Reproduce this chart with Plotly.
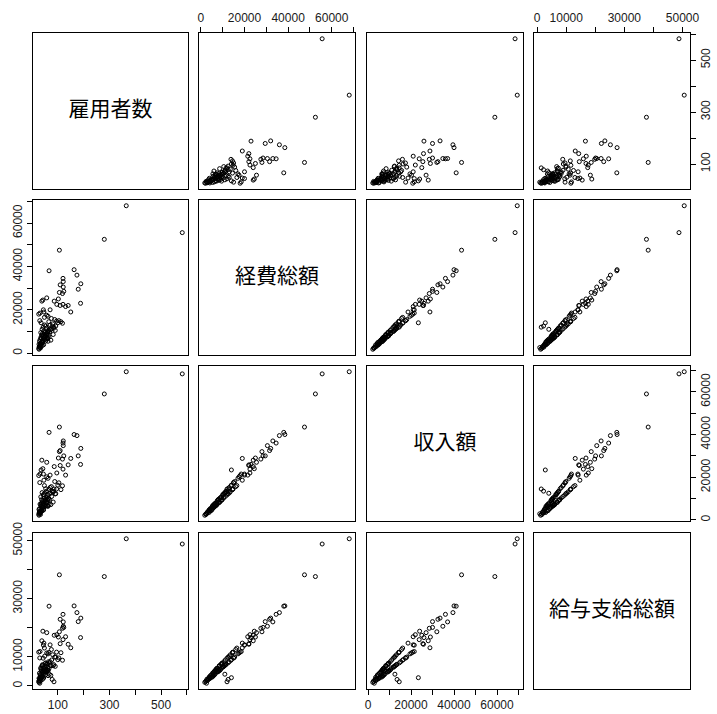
import plotly.graph_objects as go

names = ["雇用者数", "経費総額", "収入額", "給与支給総額"]

employees = [582, 365, 280, 106, 163, 174, 120, 121, 109, 121,
             189, 179, 106, 118, 123, 66, 188, 150, 57, 38,
             42, 86, 102, 96, 109, 120, 130, 140, 70, 31,
             46, 26, 78, 85, 67, 30, 62, 75, 88, 95,
             100, 80, 70, 92, 104, 112, 118, 65, 84, 28,
             32, 35, 27, 30, 38, 40, 42, 45, 48, 50,
             33, 36, 44, 52, 55, 58, 60, 62, 64, 47,
             41, 37, 34, 31, 29, 39, 43, 53, 49, 56,
             68, 72, 76, 46, 51, 54, 59, 63, 66, 26,
             40, 35, 30, 48, 57, 44, 73, 82, 90, 62,
             29, 33, 37, 41, 45, 50, 53, 58, 61, 36,
             43, 27, 34, 39]
expenses = [55600, 68000, 52500, 47500, 38500, 36000, 34500, 33000, 31500, 30500,
            32000, 29500, 28000, 27500, 28500, 38000, 23000, 19000, 25500, 24000,
            24500, 24000, 25000, 22500, 22000, 22500, 21500, 22000, 20000, 18500,
            19000, 18000, 12500, 12000, 11000, 2600, 17000, 16000, 15500, 14800,
            14000, 13500, 13000, 12500, 15000, 14500, 13800, 14500, 11500, 3000,
            3800, 4200, 1800, 2800, 5000, 5500, 6000, 6500, 7000, 7500,
            4500, 5200, 5800, 8000, 8500, 9000, 9500, 10000, 10500, 8800,
            9200, 8200, 7200, 6200, 5400, 11000, 12000, 12500, 13000, 11500,
            9800, 10800, 11200, 10200, 9600, 7800, 6800, 8300, 7400, 2200,
            3500, 14000, 15000, 16500, 17500, 20000, 6000, 8600, 10500, 5500,
            3300, 2400, 4000, 4800, 3900, 6300, 5600, 7300, 6700, 6900,
            7600, 4100, 9500, 8400]
revenue = [68400, 69400, 59000, 43500, 40000, 39500, 36000, 37000, 32500, 34800,
           33500, 30000, 32000, 28500, 30000, 41000, 26000, 28800, 27000, 28000,
           24000, 25000, 29000, 22000, 25500, 23800, 21000, 25800, 21000, 21500,
           18600, 20800, 13500, 14500, 12500, 2900, 19500, 15600, 18000, 14500,
           16300, 13200, 15200, 12300, 17400, 14200, 16000, 14300, 13300, 3600,
           3500, 5200, 2200, 3400, 4600, 6800, 5900, 7800, 6900, 9000,
           4300, 6300, 6000, 9600, 8200, 10500, 9300, 11800, 10300, 10200,
           9000, 9500, 7000, 7400, 5300, 12800, 11700, 14600, 12600, 13400,
           9600, 12500, 11000, 11900, 9400, 9100, 6700, 9700, 7300, 2700,
           4300, 23400, 17500, 16100, 20200, 21500, 7200, 8400, 12200, 6400,
           3900, 2600, 4200, 5600, 4700, 6200, 6700, 8300, 6600, 7700,
           7500, 4900, 10800, 8300]
salary = [48800, 50600, 37600, 38200, 27500, 25200, 24600, 22000, 22900, 20500,
          23300, 22100, 18600, 19800, 20100, 27400, 16600, 13100, 18300, 15500,
          18800, 17400, 16800, 17600, 14500, 15900, 16900, 14300, 14100, 11800,
          14700, 11600, 2200, 1400, 4000, 900, 11000, 12500, 9900, 11600,
          9000, 10700, 8300, 9900, 9600, 11400, 8800, 11500, 7300, 1800,
          2900, 2600, 1200, 2300, 3900, 3300, 4800, 4000, 5600, 4700,
          3600, 3000, 4600, 5000, 6900, 5600, 7600, 6400, 8300, 5400,
          7300, 5100, 5900, 3900, 4400, 7000, 9500, 7900, 10200, 7400,
          7800, 6900, 8900, 6500, 7700, 4900, 5500, 5300, 6000, 1500,
          2200, 2800, 9600, 13000, 11300, 14000, 3600, 6900, 6700, 3500,
          2400, 1700, 3200, 3000, 2700, 5100, 3800, 4900, 5300, 5500,
          6100, 2600, 6200, 6800]

employee_ticks = [100, 200, 300, 400, 500, 600]
employee_labels = ["100", "", "300", "", "500", ""]
money70_ticks = [0, 10000, 20000, 30000, 40000, 50000, 60000, 70000]
money70_labels = ["0", "", "20000", "", "40000", "", "60000", ""]
salary_ticks = [0, 10000, 20000, 30000, 40000, 50000]
salary_labels = ["0", "10000", "", "30000", "", "50000"]

data = [employees, expenses, revenue, salary]
ticks = [(employee_ticks, employee_labels), (money70_ticks, money70_labels),
         (money70_ticks, money70_labels), (salary_ticks, salary_labels)]

W, H = 717, 714
col_px = [(33, 188), (199, 355), (367, 523), (534, 690)]
row_px = [(33, 189), (200, 355), (366, 521), (533, 689)]


def rng(v):
    lo, hi = min(v), max(v)
    d = hi - lo
    return [lo - 0.04 * d, hi + 0.04 * d]


tick_font = dict(family="Liberation Sans, Arial, sans-serif", size=12, color="#1a1a1a")

fig = go.Figure()
layout = dict(width=W, height=H, margin=dict(l=0, r=0, t=0, b=0),
              paper_bgcolor="white", plot_bgcolor="white", showlegend=False,
              template="none", annotations=[])

for r in range(4):
    for c in range(4):
        k = r * 4 + c + 1
        xs = "" if k == 1 else str(k)
        xdom = [col_px[c][0] / W, col_px[c][1] / W]
        ydom = [1 - row_px[r][1] / H, 1 - row_px[r][0] / H]
        xa = dict(domain=xdom, anchor="y" + xs, showline=True, mirror=True,
                  linecolor="black", linewidth=1, showgrid=False, zeroline=False,
                  ticks="", showticklabels=False, automargin=False, fixedrange=True)
        ya = dict(domain=ydom, anchor="x" + xs, showline=True, mirror=True,
                  linecolor="black", linewidth=1, showgrid=False, zeroline=False,
                  ticks="", showticklabels=False, automargin=False, fixedrange=True)
        if r == c:
            xa["range"] = [0, 1]
            ya["range"] = [0, 1]
            fig.add_trace(go.Scatter(
                x=[0.5], y=[0.5], mode="text", text=[names[r]],
                textfont=dict(family="Noto Sans CJK JP", size=21, color="black"),
                xaxis="x" + xs, yaxis="y" + xs, hoverinfo="skip"))
        else:
            xa["range"] = rng(data[c])
            ya["range"] = rng(data[r])
            fig.add_trace(go.Scatter(
                x=data[c], y=data[r], mode="markers", xaxis="x" + xs, yaxis="y" + xs,
                marker=dict(symbol="circle-open", size=4, color="black",
                            line=dict(width=1, color="black")),
                hoverinfo="skip"))
        xshow = (r == 0 and c % 2 == 1) or (r == 3 and c % 2 == 0)
        if xshow:
            tv, tt = ticks[c]
            xa.update(ticks="outside", ticklen=5, tickwidth=1, tickcolor="black",
                      tickvals=tv, ticktext=tt, showticklabels=True,
                      side="top" if r == 0 else "bottom", tickfont=tick_font,
                      ticklabelstandoff=0)
        yshow = (c == 0 and r % 2 == 1) or (c == 3 and r % 2 == 0)
        if yshow:
            tv, tt = ticks[r]
            ya.update(ticks="outside", ticklen=5, tickwidth=1, tickcolor="black",
                      tickvals=tv, ticktext=tt, showticklabels=True,
                      side="left" if c == 0 else "right", tickfont=tick_font,
                      tickangle=-90, ticklabelstandoff=0)
        layout["xaxis" + xs] = xa
        layout["yaxis" + xs] = ya

fig.update_layout(**layout)
fig.write_html("out.html", config={"displayModeBar": False},
               post_script="document.body.style.margin='0';")
